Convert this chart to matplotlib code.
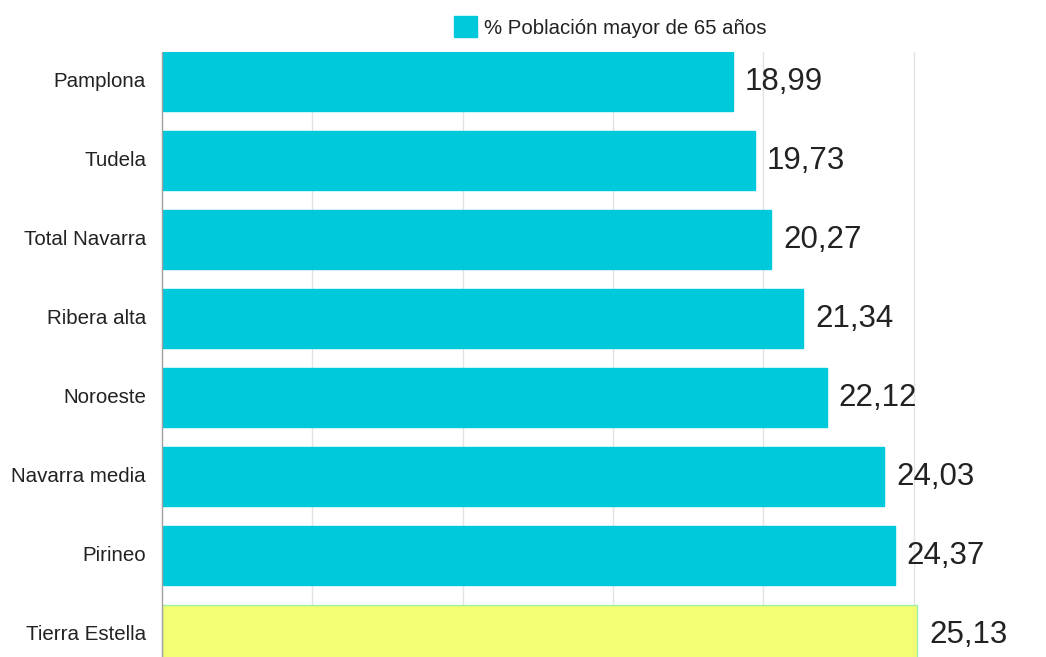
import matplotlib
matplotlib.use("Agg")
import matplotlib.pyplot as plt
from matplotlib.patches import Patch
from matplotlib.transforms import ScaledTranslation

plt.rcParams['font.family'] = ['Liberation Sans', 'DejaVu Sans']

categories = ["Pamplona", "Tudela", "Total Navarra", "Ribera alta", "Noroeste",
              "Navarra media", "Pirineo", "Tierra Estella"]
values = [18.99, 19.73, 20.27, 21.34, 22.12, 24.03, 24.37, 25.13]
legend_label = "% Población mayor de 65 años"

base_color = "#00C9DB"
highlight_color = "#F2FF73"
highlight_edge = "#9EEFA8"

fig = plt.figure(figsize=(10.46, 6.57), dpi=100)
ax = fig.add_axes([162/1046, 0.0, 1 - 162/1046, 1 - 52/657])

colors = [base_color] * (len(values) - 1) + [highlight_color]
edges = [base_color] * (len(values) - 1) + [highlight_edge]
ypos = list(range(len(categories)))
bars = ax.barh(ypos, values, height=0.74, color=colors, edgecolor=edges, linewidth=1.0, zorder=3)

for y, v in zip(ypos, values):
    ax.annotate(f"{v:.2f}".replace(".", ","), xy=(v, y), xytext=(8.5, -0.5),
                textcoords="offset points", ha="left", va="center",
                fontsize=22.5, color="#222222")

ax.set_xlim(0, 884/30.06)
ax.set_ylim(7.287, -0.371)
ax.set_yticks(ypos)
ax.set_yticklabels(categories, fontsize=14.8, color="#222222")
ax.tick_params(axis="y", length=0, pad=11.5)
shift = ScaledTranslation(0, 2/100, fig.dpi_scale_trans)
for lbl in ax.get_yticklabels():
    lbl.set_transform(lbl.get_transform() + shift)
ax.set_xticks([5, 10, 15, 20, 25])
ax.tick_params(axis="x", length=0, labelbottom=False)
ax.grid(axis="x", color="#E3E3E3", linewidth=1.0, zorder=0)
for s in ["top", "right", "bottom"]:
    ax.spines[s].set_visible(False)
ax.spines["left"].set_color("#A0A0A0")
ax.spines["left"].set_linewidth(1.0)
ax.spines["left"].set_zorder(4)

handle = Patch(facecolor=base_color, edgecolor=base_color)
fig.legend([handle], [legend_label], loc="center", bbox_to_anchor=(0.5835, 0.959),
           frameon=False, fontsize=14.7, handlelength=1.15, handleheight=1.2,
           handletextpad=0.35, borderpad=0, labelcolor="#222222")

fig.savefig("out.png", dpi=100)
